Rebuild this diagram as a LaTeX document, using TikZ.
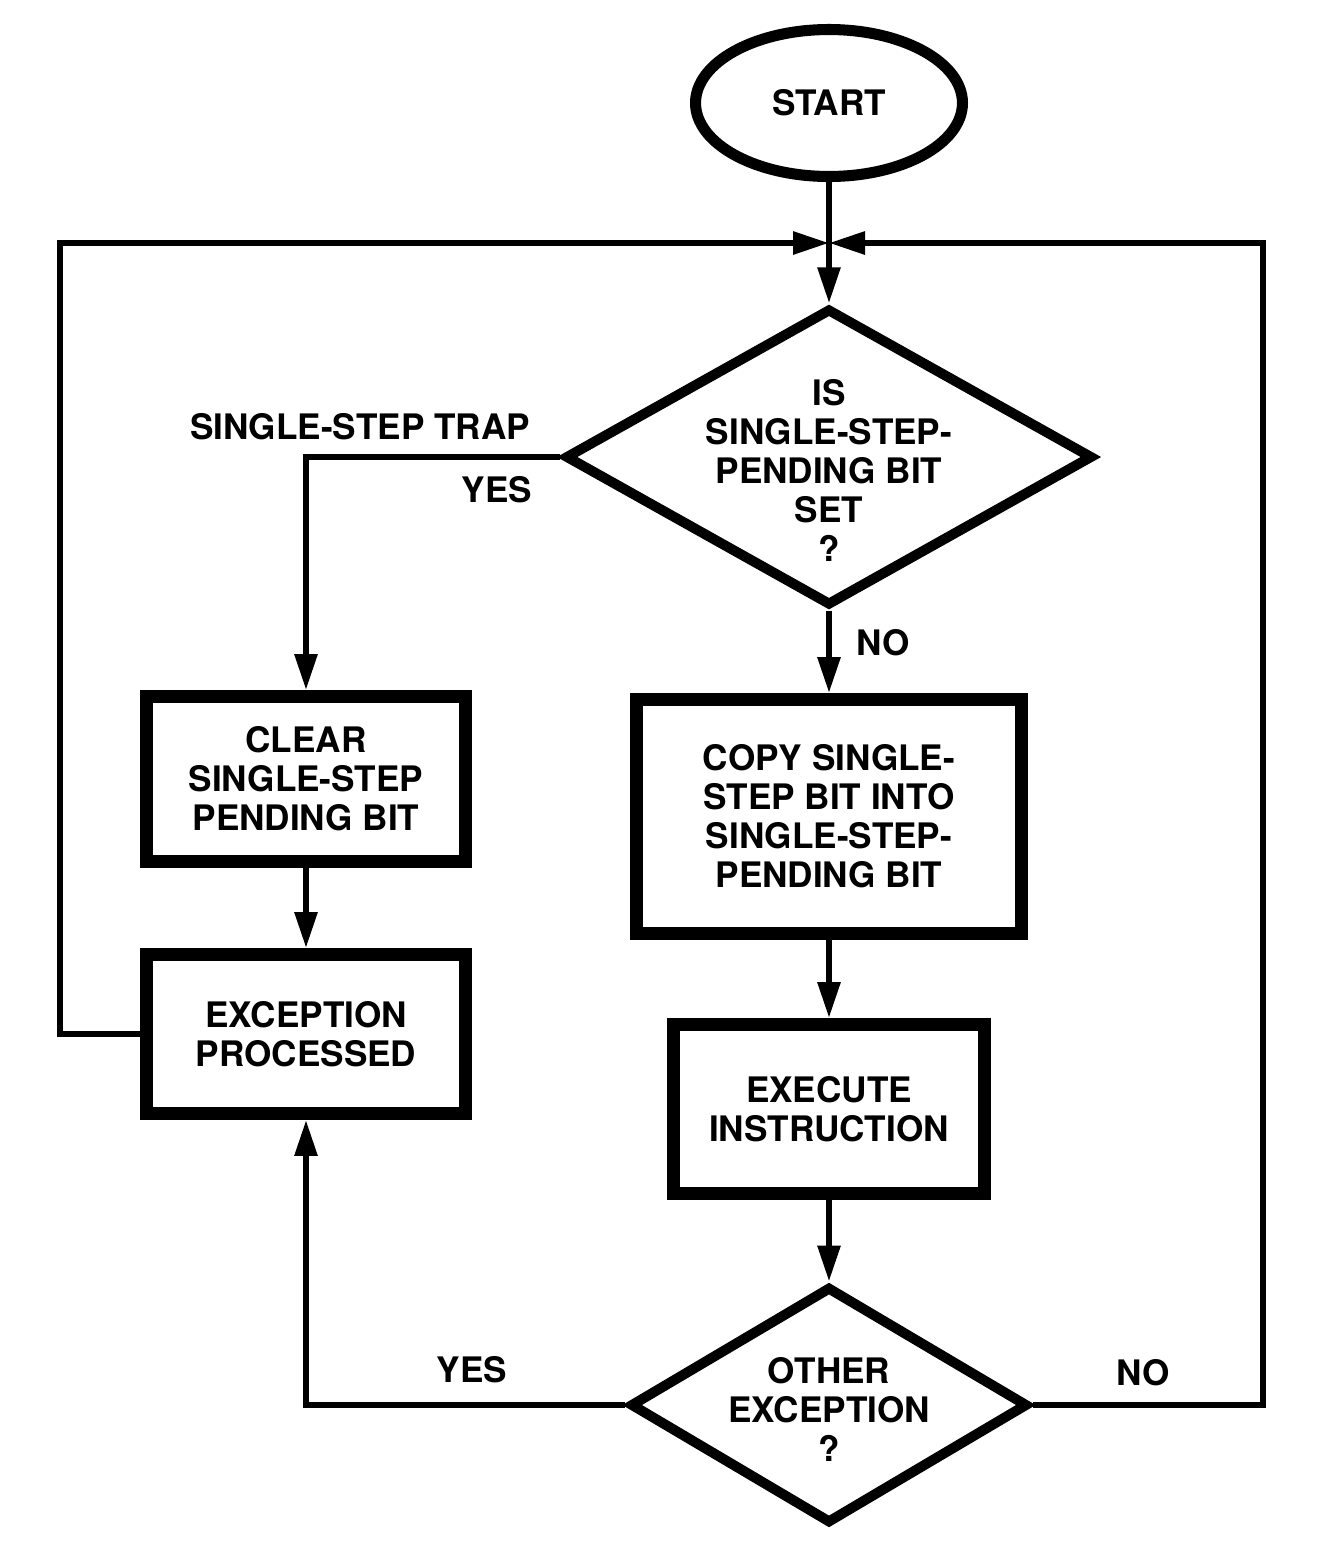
\documentclass[tikz,border=0pt]{standalone}
\usepackage{fontspec}
\setmainfont{TeX Gyre Heros}
\usetikzlibrary{shapes.geometric,arrows.meta}
\begin{document}
\begin{tikzpicture}[x=0.02cm,y=-0.02cm,
  font=\bfseries\fontsize{20}{22.2}\selectfont,
  box/.style={draw,line width=7.4pt,rectangle,align=center,inner sep=0pt},
  dia/.style={draw,line width=5.7pt,diamond,inner sep=0pt},
  conn/.style={line width=3.4pt},
  arr/.style={conn,-{Triangle[length=0.72cm,width=0.44cm]}},
  lbl/.style={align=center,inner sep=0pt}]
\useasboundingbox (0,0) rectangle (1337,1556);
% nodes
\node[draw,ellipse,line width=6.3pt,minimum width=5.34cm,minimum height=2.94cm,inner sep=0pt] (start) at (829,103) {START};
\coordinate (J) at (829,243);
\node[dia,minimum width=10.56cm,minimum height=5.95cm] (d1) at (829,457) {};
\node[lbl] (d1t) at (829,470) {IS\\SINGLE-STEP-\\PENDING BIT\\SET\\?};
\node[box,minimum width=6.38cm,minimum height=3.3cm] (clear) at (306,779) {CLEAR\\SINGLE-STEP\\PENDING BIT};
\node[box,minimum width=6.38cm,minimum height=3.18cm] (exc) at (306,1034) {EXCEPTION\\PROCESSED};
\node[box,minimum width=7.72cm,minimum height=4.68cm] (copy) at (829,816.5) {COPY SINGLE-\\STEP BIT INTO\\SINGLE-STEP-\\PENDING BIT};
\node[box,minimum width=6.24cm,minimum height=3.38cm] (exec) at (829,1109) {EXECUTE\\INSTRUCTION};
\node[dia,minimum width=7.96cm,minimum height=4.74cm] (d2) at (829,1405) {};
\node[lbl] (d2t) at (829,1409) {OTHER\\EXCEPTION\\?};
% labels
\node[lbl] (trap) at (360,427) {SINGLE-STEP TRAP};
\node[lbl] (yes1) at (497,490) {YES};
\node[lbl] (no1) at (883,643) {NO};
\node[lbl] (yes2) at (472,1370) {YES};
\node[lbl] (no2) at (1143,1373) {NO};
% connectors
\draw[conn] (start.south) -- (J);
\draw[arr] (J) -- (d1.north);
\draw[arr] (exc.west) -- ++(-80,0) |- (J);
\draw[arr] (d2.east) -- ++(230,0) |- (J);
\draw[arr] (d1.west) -| (clear.north);
\draw[arr] (d1.south) -- (copy.north);
\draw[arr] (clear.south) -- (exc.north);
\draw[arr] (copy.south) -- (exec.north);
\draw[arr] (exec.south) -- (d2.north);
\draw[arr] (d2.west) -| (exc.south);
\end{tikzpicture}
\end{document}
